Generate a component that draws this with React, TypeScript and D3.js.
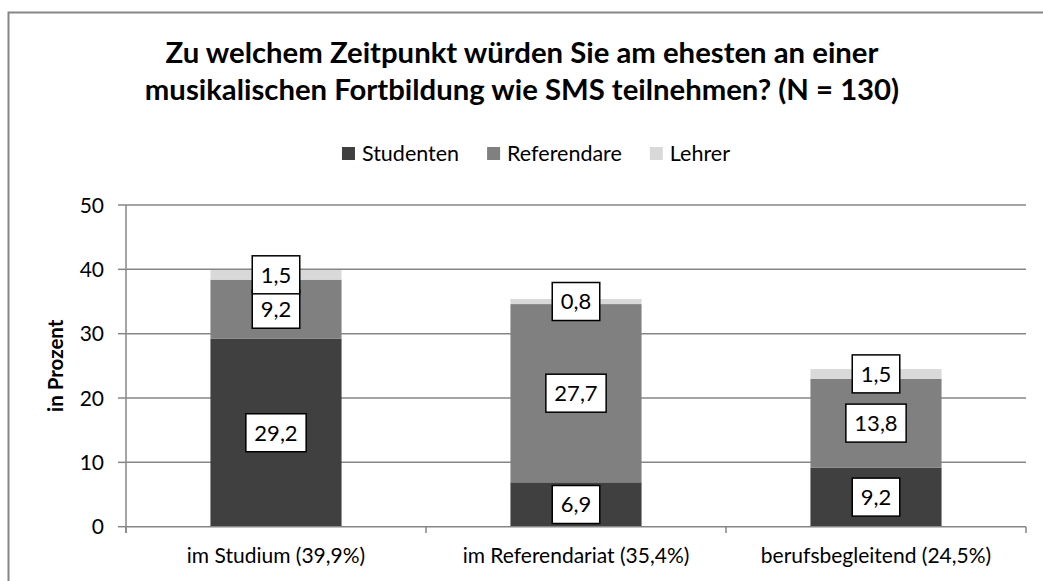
import React, { useEffect, useRef } from "react";
import * as d3 from "d3";

const categories = ["im Studium (39,9%)", "im Referendariat (35,4%)", "berufsbegleitend (24,5%)"];
const seriesNames = ["Studenten", "Referendare", "Lehrer"];
const studenten = [29.2, 6.9, 9.2];
const referendare = [9.2, 27.7, 13.8];
const lehrer = [1.5, 0.8, 1.5];
const yTicks = [0, 10, 20, 30, 40, 50];
const titleLines = [
  "Zu welchem Zeitpunkt würden Sie am ehesten an einer",
  "musikalischen Fortbildung wie SMS teilnehmen? (N = 130)",
];
const yAxisTitle = "in Prozent";

const colors = ["#404040", "#808080", "#d9d9d9"];
const FONT = "Lato, 'Open Sans', sans-serif";

export default function App() {
  const ref = useRef<SVGSVGElement>(null);
  useEffect(() => {
    const svg = d3.select(ref.current!);
    svg.selectAll("*").remove();
    const W = 1043, H = 581;
    const left = 126, right = 1026, top = 205, bottom = 526.7;
    const grid = "#868686";

    svg.append("rect").attr("x", 0).attr("y", 0).attr("width", W).attr("height", H).attr("fill", "#fff");
    svg.append("rect").attr("x", 8.5).attr("y", 12.5).attr("width", 1200).attr("height", 800)
      .attr("fill", "none").attr("stroke", grid).attr("stroke-width", 2);

    // title
    const title = svg.append("text").attr("text-anchor", "middle").attr("font-family", FONT)
      .attr("font-weight", "bold").attr("font-size", 29.3).attr("fill", "#000");
    titleLines.forEach((l, i) => {
      title.append("tspan").attr("x", 522).attr("y", 63 + i * 37).text(l);
    });

    const x = d3.scaleBand<string>().domain(categories).range([left, right]).paddingInner(0.563).paddingOuter(0.2815);
    const y = d3.scaleLinear().domain([0, 50]).range([bottom, top]);

    // gridlines
    svg.append("g").selectAll("line").data(yTicks.filter((t) => t > 0)).join("line")
      .attr("x1", left).attr("x2", right).attr("y1", (d) => y(d)).attr("y2", (d) => y(d))
      .attr("stroke", grid).attr("stroke-width", 1.5);

    // y tick labels
    svg.append("g").selectAll("text").data(yTicks).join("text")
      .attr("x", 104).attr("y", (d) => y(d)).attr("dy", "0.36em").attr("text-anchor", "end")
      .attr("font-family", FONT).attr("font-size", 21).attr("fill", "#000").text((d) => String(d));

    // y axis tick marks
    svg.append("g").selectAll("line").data(yTicks).join("line")
      .attr("x1", 118).attr("x2", left).attr("y1", (d) => y(d)).attr("y2", (d) => y(d))
      .attr("stroke", grid).attr("stroke-width", 1.5);

    // axis title
    svg.append("text").attr("transform", `translate(63,${(top + bottom) / 2}) rotate(-90)`)
      .attr("text-anchor", "middle").attr("font-family", FONT).attr("font-weight", "bold")
      .attr("font-size", 20.5).attr("fill", "#000").text(yAxisTitle);

    // stacks
    const rows = categories.map((c, i) => ({ cat: c, Studenten: studenten[i], Referendare: referendare[i], Lehrer: lehrer[i] }));
    const stack = d3.stack<any>().keys(seriesNames)(rows);
    const bars = svg.append("g");
    stack.forEach((s, si) => {
      bars.selectAll(null).data(s).join("rect")
        .attr("x", (d: any) => x(d.data.cat)!).attr("width", x.bandwidth())
        .attr("y", (d: any) => y(d[1])).attr("height", (d: any) => y(d[0]) - y(d[1]))
        .attr("fill", colors[si]);
    });

    // x axis
    svg.append("line").attr("x1", left).attr("x2", right).attr("y1", bottom).attr("y2", bottom)
      .attr("stroke", grid).attr("stroke-width", 1.5);
    svg.append("line").attr("x1", left).attr("x2", left).attr("y1", top).attr("y2", 533)
      .attr("stroke", grid).attr("stroke-width", 1.5);
    const step = x.step();
    const bounds = d3.range(categories.length + 1).map((i) => left + i * step);
    svg.append("g").selectAll("line").data(bounds).join("line")
      .attr("x1", (d) => d).attr("x2", (d) => d).attr("y1", bottom).attr("y2", 533)
      .attr("stroke", grid).attr("stroke-width", 1.5);
    svg.append("g").selectAll("text").data(categories).join("text")
      .attr("x", (d) => x(d)! + x.bandwidth() / 2).attr("y", 563).attr("text-anchor", "middle")
      .attr("font-family", FONT).attr("font-size", 21).attr("fill", "#000").text((d) => d);

    // data labels
    const lab = svg.append("g");
    stack.forEach((s) => {
      s.forEach((d: any) => {
        const v = d[1] - d[0];
        const cx = x(d.data.cat)! + x.bandwidth() / 2;
        const cy = y((d[0] + d[1]) / 2);
        const g = lab.append("g");
        const r = g.append("rect").attr("fill", "#fff").attr("stroke", "#000").attr("stroke-width", 1.5);
        const t = g.append("text").attr("x", cx).attr("y", cy).attr("dy", "0.36em").attr("text-anchor", "middle")
          .attr("font-family", FONT).attr("font-size", 22).attr("fill", "#000")
          .text(d3.format(".1f")(v).replace(".", ","));
        const tw = (t.node() as SVGTextElement).getComputedTextLength();
        const bw = tw + 17, bh = 38;
        r.attr("x", cx - bw / 2).attr("y", cy - bh / 2).attr("width", bw).attr("height", bh);
      });
    });

    // legend
    const lg = svg.append("g");
    let lx = 0;
    seriesNames.forEach((n, i) => {
      lg.append("rect").attr("x", lx).attr("y", 147).attr("width", 13).attr("height", 13).attr("fill", colors[i]);
      const t = lg.append("text").attr("x", lx + 20).attr("y", 161).attr("font-family", FONT)
        .attr("font-size", 21.5).attr("fill", "#000").text(n);
      const tw = (t.node() as SVGTextElement).getComputedTextLength();
      lx += 20 + tw + 28;
    });
    const total = lx - 28;
    lg.attr("transform", `translate(${536 - total / 2},0)`);
  }, []);
  return (
    <svg ref={ref} width={1043} height={581} style={{ position: "absolute", left: 0, top: 0, display: "block" }} />
  );
}
